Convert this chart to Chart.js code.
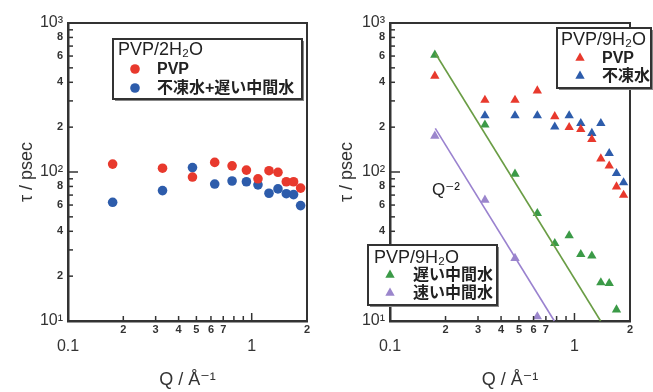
<!DOCTYPE html>
<html><head><meta charset="utf-8">
<script src="https://cdn.jsdelivr.net/npm/chart.js@4.4.1/dist/chart.umd.min.js"></script>
<style>
html,body{margin:0;padding:0;background:#fff;}
#wrap{position:relative;width:653px;height:392px;overflow:hidden;background:#fff;}
canvas{position:absolute;top:0;}
#c1{left:0;} #c2{left:326px;}
</style></head><body>
<div id="wrap"><canvas id="c1" width="326" height="392"></canvas><canvas id="c2" width="327" height="392"></canvas></div>
<script>
// ---------- data ----------
const qValues = [0.175, 0.327, 0.476, 0.629, 0.782, 0.936, 1.082, 1.242, 1.39, 1.543, 1.69, 1.846];
// left panel: PVP/2H2O
const tauPVP_2H2O   = [113, 106, 92.5, 116, 110, 103, 90, 102, 99.5, 86, 86, 78];
const tauWater_2H2O = [62.6, 75, 107, 83, 87, 86, 82, 72, 77, 71.5, 70.5, 59.5];
// right panel: PVP/9H2O
const tauPVP_9H2O          = [441, 304, 304, 351, 236, 199.5, 193.5, 165.7, 122.8, 110, 79.7, 70];
const tauNonFreezing_9H2O  = [null, 239, 239, 239, 201, 239, 212, 182, 212, 133.5, 98, 84.8];
const tauSlowInter_9H2O    = [610, 207, 97, 52.8, 33.2, 37.4, 28, 27.4, 18.1, 17.9, 11.9, null];
const tauFastInter_9H2O    = [174.5, 64.9, 26.4, 10.7, null, null, null, null, null, null, null, null];
// Q^-2 guide lines (end points)
const slowFitQ = [0.176, 1.386];
const slowFitTau = [627, 10];
const fastFitQ = [0.176, 0.778];
const fastFitTau = [196, 10];
// ticks
const xTickValues = [0.1, 0.2, 0.3, 0.4, 0.5, 0.6, 0.7, 0.8, 0.9, 1, 2];
const xTickText   = ['0.1', '2', '3', '4', '5', '6', '7', '', '', '1', '2'];
const yTickValues = [10, 20, 30, 40, 50, 60, 70, 80, 90, 100, 200, 300, 400, 500, 600, 700, 800, 900, 1000];
const yTickText   = ['10¹', '2', '', '4', '', '6', '', '8', '', '10²', '2', '', '4', '', '6', '', '8', '', '10³'];
// labels
const leftLegendTitle = 'PVP/2H₂O';
const leftSeriesNames = ['PVP', '不凍水+遅い中間水'];
const rightLegend1Title = 'PVP/9H₂O';
const rightLegend1Names = ['PVP', '不凍水'];
const rightLegend2Title = 'PVP/9H₂O';
const rightLegend2Names = ['遅い中間水', '速い中間水'];
const xTitle = 'Q / Å⁻¹';
const yTitle = 'τ / psec';
const slopeLabel = 'Q⁻²';

// ---------- style ----------
const RED = '#e8392d', BLUE = '#2d5cab', GREEN = '#3b9a47', PURPLE = '#9b86cc';
const GREEN_LINE = '#6a9d45', PURPLE_LINE = '#9a82cf';
const AX = '#333';
const LAT = '"Liberation Sans", "DejaVu Sans", "Noto Sans CJK JP", sans-serif';
const JP = '"Liberation Sans", "Noto Sans CJK JP", sans-serif';

function pts(xs, ys) { return xs.map((x, i) => ({x: x, y: ys[i]})).filter(p => p.y != null); }
function isDecade(v) { const l = Math.log10(v); return Math.abs(l - Math.round(l)) < 1e-6; }
function tickVal(c) { return c.tick ? c.tick.value : 1; }

function line(ctx, x1, y1, x2, y2) { ctx.beginPath(); ctx.moveTo(x1, y1); ctx.lineTo(x2, y2); ctx.stroke(); }

function drawMarker(ctx, style, color, x, y) {
  ctx.fillStyle = color;
  ctx.beginPath();
  if (style === 'circle') {
    ctx.arc(x, y, 4.8, 0, Math.PI * 2);
  } else {
    const r = 5.4;
    ctx.moveTo(x, y - r);
    ctx.lineTo(x + r * 0.866, y + r * 0.5);
    ctx.lineTo(x - r * 0.866, y + r * 0.5);
    ctx.closePath();
  }
  ctx.fill();
}

function drawLegend(ctx, L) {
  ctx.save();
  ctx.fillStyle = '#888';
  ctx.fillRect(L.x + 2, L.y + 2, L.w, L.h);
  ctx.fillStyle = '#fff';
  ctx.fillRect(L.x, L.y, L.w, L.h);
  ctx.strokeStyle = AX; ctx.lineWidth = 2;
  ctx.strokeRect(L.x, L.y, L.w, L.h);
  ctx.fillStyle = '#222'; ctx.textBaseline = 'middle'; ctx.textAlign = 'left';
  ctx.font = '18px ' + LAT;
  ctx.fillText(L.title, L.tx, L.ty);
  L.items.forEach(it => {
    drawMarker(ctx, it.style, it.color, L.mx, it.y);
    ctx.fillStyle = '#222';
    ctx.font = 'bold 16px ' + JP;
    ctx.fillText(it.text, L.lx, it.y + 0.5);
  });
  ctx.restore();
}

function makeChart(canvas, datasets, cfg) {
  const panelPlugin = {
    id: 'panel',
    afterDraw(chart) {
      const ctx = chart.ctx, a = chart.chartArea, xs = chart.scales.x, ys = chart.scales.y;
      ctx.save();
      ctx.strokeStyle = AX;
      ctx.lineWidth = 2;
      ctx.beginPath();
      ctx.moveTo(a.left, a.top); ctx.lineTo(a.right, a.top); ctx.lineTo(a.right, a.bottom);
      ctx.stroke();
      ctx.lineWidth = 1.5;
      xs.ticks.forEach(t => {
        const px = xs.getPixelForValue(t.value);
        if (px <= a.left + 1 || px >= a.right - 1) return;
        line(ctx, px, a.bottom, px, a.bottom - (isDecade(t.value) ? 8 : 5));
      });
      ys.ticks.forEach(t => {
        const py = ys.getPixelForValue(t.value);
        if (py <= a.top + 1 || py >= a.bottom - 1) return;
        line(ctx, a.left, py, a.left + (isDecade(t.value) ? 10 : 5), py);
      });
      if (cfg.note) {
        ctx.fillStyle = '#222'; ctx.font = '17px ' + LAT; ctx.textBaseline = 'middle'; ctx.textAlign = 'left';
        ctx.fillText(cfg.note.text, cfg.note.x, cfg.note.y);
      }
      ctx.restore();
      cfg.legends.forEach(L => drawLegend(ctx, L));
    }
  };
  return new Chart(canvas, {
    type: 'scatter',
    data: {datasets: datasets},
    plugins: [panelPlugin],
    options: {
      responsive: false, animation: false, devicePixelRatio: 1,
      layout: {padding: {top: 23, right: cfg.padRight, left: 0, bottom: 0}},
      plugins: {legend: {display: false}, tooltip: {enabled: false}},
      scales: {
        x: {
          type: 'logarithmic', min: 0.1, max: 2, position: 'bottom',
          afterBuildTicks: s => { s.ticks = xTickValues.map(v => ({value: v})); },
          afterFit: s => { s.height = 71; },
          grid: {display: false, drawTicks: false},
          border: {display: true, color: AX, width: 2.5},
          ticks: {
            autoSkip: false, maxRotation: 0, minRotation: 0, padding: 2.4, color: '#333',
            callback: (v, i) => isDecade(v) ? ['', xTickText[i]] : xTickText[i],
            font: c => isDecade(tickVal(c)) ? {family: LAT, size: 16, lineHeight: 0.95} : {family: LAT, size: 11, weight: 'bold', lineHeight: 1.2}
          },
          title: {display: true, text: xTitle, color: '#333', font: {family: LAT, size: 18}, padding: {top: 0, bottom: 1}}
        },
        y: {
          type: 'logarithmic', min: 10, max: 1000, position: 'left',
          afterBuildTicks: s => { s.ticks = yTickValues.map(v => ({value: v})); },
          afterFit: s => { s.width = cfg.yWidth; },
          grid: {display: false, drawTicks: false},
          border: {display: true, color: AX, width: 2.5},
          ticks: {
            autoSkip: false, padding: 5, color: '#333',
            callback: (v, i) => yTickText[i],
            font: c => isDecade(tickVal(c)) ? {family: LAT, size: 16} : {family: LAT, size: 11, weight: 'bold'}
          },
          title: {display: true, text: yTitle, color: '#333', font: {family: LAT, size: 18}, padding: {top: cfg.yTitlePad, bottom: 0}}
        }
      }
    }
  });
}

const dot = (label, color, style, data) => ({
  label: label, data: data, pointStyle: style, pointRadius: style === 'circle' ? 4.8 : 5.4,
  backgroundColor: color, borderColor: color, borderWidth: 0, showLine: false, clip: false
});
const guide = (color, data) => ({
  data: data, showLine: true, pointRadius: 0, borderColor: color, borderWidth: 1.6, fill: false, clip: false
});

makeChart(document.getElementById('c1'), [
  dot(leftSeriesNames[0], RED, 'circle', pts(qValues, tauPVP_2H2O)),
  dot(leftSeriesNames[1], BLUE, 'circle', pts(qValues, tauWater_2H2O))
], {
  yWidth: 68, padRight: 19, yTitlePad: 16,
  legends: [{
    x: 113, y: 39, w: 189, h: 60, title: leftLegendTitle, tx: 118, ty: 50, mx: 135, lx: 157,
    items: [{style: 'circle', color: RED, text: leftSeriesNames[0], y: 69},
            {style: 'circle', color: BLUE, text: leftSeriesNames[1], y: 88}]
  }]
});

makeChart(document.getElementById('c2'), [
  guide(GREEN_LINE, pts(slowFitQ, slowFitTau)),
  guide(PURPLE_LINE, pts(fastFitQ, fastFitTau)),
  dot(rightLegend1Names[0], RED, 'triangle', pts(qValues, tauPVP_9H2O)),
  dot(rightLegend1Names[1], BLUE, 'triangle', pts(qValues, tauNonFreezing_9H2O)),
  dot(rightLegend2Names[0], GREEN, 'triangle', pts(qValues, tauSlowInter_9H2O)),
  dot(rightLegend2Names[1], PURPLE, 'triangle', pts(qValues, tauFastInter_9H2O))
], {
  yWidth: 64, padRight: 23, yTitlePad: 10,
  note: {text: slopeLabel, x: 106, y: 190},
  legends: [{
    x: 231, y: 28, w: 94, h: 60, title: rightLegend1Title, tx: 235, ty: 40, mx: 254, lx: 276,
    items: [{style: 'triangle', color: RED, text: rightLegend1Names[0], y: 58},
            {style: 'triangle', color: BLUE, text: rightLegend1Names[1], y: 76}]
  }, {
    x: 42, y: 245, w: 129, h: 60, title: rightLegend2Title, tx: 48, ty: 258, mx: 64, lx: 87,
    items: [{style: 'triangle', color: GREEN, text: rightLegend2Names[0], y: 275},
            {style: 'triangle', color: PURPLE, text: rightLegend2Names[1], y: 293}]
  }]
});
</script>
</body></html>
